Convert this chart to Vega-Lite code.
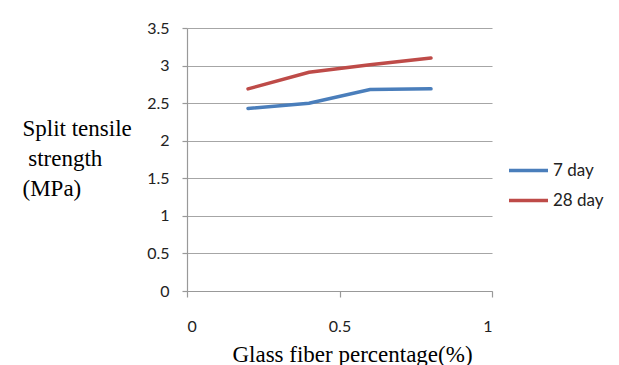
{
  "$schema": "https://vega.github.io/schema/vega-lite/v6.json",
  "autosize": {"type": "none"},
  "width": 305,
  "height": 263,
  "padding": {"left": 187, "top": 28, "right": 127, "bottom": 74},
  "background": "white",
  "data": {
    "values": [
      {"pct": 0.2, "strength": 2.43, "age": "7 day"},
      {"pct": 0.4, "strength": 2.50, "age": "7 day"},
      {"pct": 0.6, "strength": 2.68, "age": "7 day"},
      {"pct": 0.8, "strength": 2.69, "age": "7 day"},
      {"pct": 0.2, "strength": 2.69, "age": "28 day"},
      {"pct": 0.4, "strength": 2.91, "age": "28 day"},
      {"pct": 0.6, "strength": 3.01, "age": "28 day"},
      {"pct": 0.8, "strength": 3.10, "age": "28 day"}
    ]
  },
  "mark": {"type": "line", "strokeWidth": 3.5, "strokeCap": "round"},
  "encoding": {
    "x": {
      "field": "pct",
      "type": "quantitative",
      "scale": {"domain": [0, 1], "nice": false},
      "axis": {
        "values": [0, 0.5, 1],
        "grid": false,
        "format": "",
        "tickSize": 6,
        "labelPadding": 21,
        "title": "Glass fiber percentage(%)",
        "titleFont": "Liberation Serif",
        "titleFontSize": 23,
        "titleFontWeight": "normal",
        "titleColor": "#000000",
        "titleBaseline": "top",
        "titleAlign": "center",
        "titleX": 165,
        "titleY": 52
      }
    },
    "y": {
      "field": "strength",
      "type": "quantitative",
      "scale": {"domain": [0, 3.5], "nice": false},
      "axis": {
        "values": [0, 0.5, 1, 1.5, 2, 2.5, 3, 3.5],
        "format": "",
        "grid": true,
        "tickSize": 5,
        "labelPadding": 13,
        "title": ["Split tensile", "\u200b\u00a0strength", "(MPa)"]
      }
    },
    "color": {
      "field": "age",
      "type": "nominal",
      "scale": {"domain": ["7 day", "28 day"], "range": ["#4A7EBB", "#BE4B48"]},
      "legend": {
        "title": null,
        "orient": "none",
        "legendX": 320,
        "legendY": 121,
        "symbolType": "stroke",
        "symbolSize": 1521,
        "symbolStrokeWidth": 3.5,
        "rowPadding": 0,
        "labelOffset": 3,
        "labelFont": "Lato",
        "labelFontSize": 17,
        "labelColor": "#222222"
      }
    }
  },
  "config": {
    "view": {"stroke": null},
    "axis": {
      "labelFont": "Lato",
      "labelFontSize": 16,
      "labelColor": "#222222",
      "domainColor": "#999999",
      "tickColor": "#999999",
      "gridColor": "#a6a6a6",
      "gridWidth": 1.2,
      "domainWidth": 1.2,
      "tickWidth": 1.2
    },
    "axisY": {
      "titleFont": "Liberation Serif",
      "titleFontSize": 23,
      "titleFontWeight": "normal",
      "titleColor": "#000000",
      "titleAngle": 0,
      "titleAlign": "left",
      "titleBaseline": "top",
      "titleLineHeight": 30,
      "titleX": -165,
      "titleY": 89
    }
  }
}
